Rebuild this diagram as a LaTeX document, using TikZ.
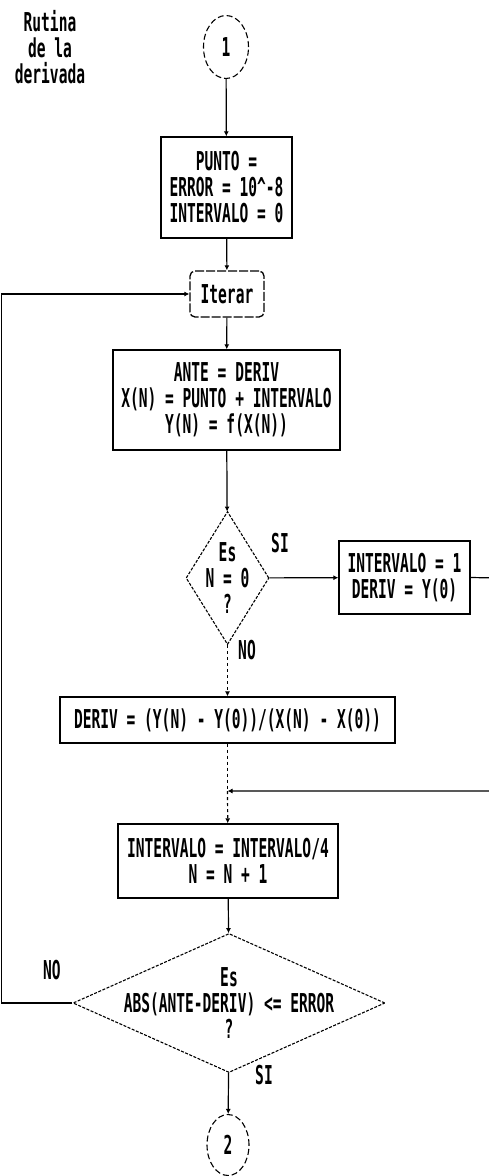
\documentclass[tikz,border=0pt]{standalone}
\usepackage{fontspec}
\usepackage{tikz}
\usetikzlibrary{arrows.meta,shapes.geometric}
\newfontfamily\flowfnt{DejaVu Sans Mono}[FakeStretch=0.56]
\newcommand\flowfont{\flowfnt\bfseries\fontsize{26}{26}\selectfont}

\begin{document}
\begin{tikzpicture}[x=1pt,y=-1pt,
    proc/.style={draw,line width=1.3pt,inner sep=0pt,align=center,font=\flowfont},
    decision/.style={draw,diamond,dashed,dash pattern=on 3pt off 1.5pt,line width=1.1pt,inner sep=0pt},
    connector/.style={draw,ellipse,dashed,dash pattern=on 6pt off 3pt,line width=1.1pt,inner sep=0pt,font=\flowfont},
    lbl/.style={font=\flowfont},
    flow/.style={-{Latex[length=5pt,width=5pt]},line width=1.2pt}]
  \useasboundingbox (0,0) rectangle (489,1176);
  \fill[white] (0,0) rectangle (489,1176);

  \node[lbl,align=center] (title) at (50,47) {Rutina\\de la\\derivada};
  \node[connector,minimum width=45pt,minimum height=63pt] (c1) at (226,47) {1};

  \node[proc,minimum width=131pt,minimum height=101pt] (init) at (226.5,187.5)
    {PUNTO =\\ERROR = 10\textasciicircum-8\\INTERVALO = 0};
  \node[proc,dashed,dash pattern=on 9pt off 2pt,rounded corners=5pt,
    minimum width=74pt,minimum height=46pt] (iter) at (227,294) {Iterar};
  \node[proc,minimum width=227pt,minimum height=100pt] (calc) at (226.5,400)
    {ANTE = DERIV\\X(N) = PUNTO + INTERVALO\\Y(N) = f(X(N))};

  % primer paso
  \node[decision,minimum width=83pt,minimum height=133pt] (d1) at (227.5,578) {};
  \node[lbl,align=center] (d1txt) at (d1) {Es\\N = 0\\?};
  \node[proc,minimum width=131pt,minimum height=73pt] (first) at (404.5,577.5)
    {INTERVALO = 1\\DERIV = Y(0)};
  \node[proc,minimum width=335pt,minimum height=46pt] (deriv) at (227.5,720)
    {DERIV = (Y(N) - Y(0))/(X(N) - X(0))};
  \coordinate (join) at (227.5,791);
  \node[proc,minimum width=220pt,minimum height=74pt] (next) at (228,861)
    {INTERVALO = INTERVALO/4\\N = N + 1};

  % convergencia
  \node[decision,minimum width=312pt,minimum height=139pt] (d2) at (229,1003) {};
  \node[lbl,align=center] (d2txt) at (d2) {Es\\ABS(ANTE-DERIV) <= ERROR\\?};
  \node[connector,minimum width=42pt,minimum height=61pt] (c2) at (228,1145) {2};

  \node[lbl] (si1) at (280,543) {SI};
  \node[lbl] (no1) at (247,650) {NO};
  \node[lbl] (no2) at (52,970) {NO};
  \node[lbl] (si2) at (264,1075) {SI};

  \draw[flow] (c1) -- (init);
  \draw[flow] (init) -- (iter);
  \draw[flow] (iter) -- (calc);
  \draw[flow] (calc) -- (d1);
  \draw[flow] (d1) -- (first);
  \draw[flow,dashed] (d1) -- (deriv);
  \draw[line width=1.2pt,dashed] (deriv) -- (join);
  \draw[flow,dashed] (join) -- (next);
  \draw[flow] (first.east) -- (500,578) -- (500,791) -- (join);
  \draw[flow] (next) -- (d2);
  \draw[flow] (d2) -- (c2);
  \draw[flow] (d2.west) -- (1.5,1003) -- (1.5,294) -- (iter.west);
\end{tikzpicture}
\end{document}
